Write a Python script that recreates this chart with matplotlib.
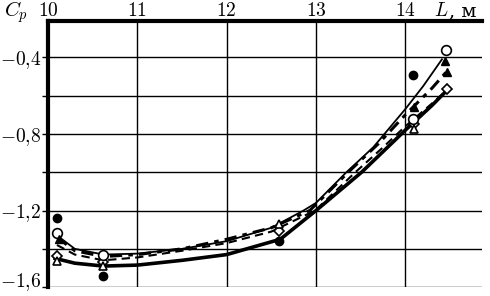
import matplotlib
matplotlib.use("Agg")
import matplotlib.pyplot as plt
from matplotlib.ticker import FixedLocator

plt.rcParams['font.family'] = ['Liberation Serif', 'DejaVu Serif']
plt.rcParams['mathtext.fontset'] = 'cm'

# Curves (L, Cp)
thin_L = [10.1, 10.3, 10.62, 11.0, 11.5, 12.0, 12.5, 12.86, 13.0, 13.34, 13.64, 14.0, 14.2, 14.41]
thin_Cp = [-1.33, -1.40, -1.43, -1.425, -1.40, -1.36, -1.29, -1.2, -1.16, -1.0, -0.87, -0.67, -0.55, -0.41]

dashdot_L = [10.1, 10.3, 10.62, 11.0, 11.5, 12.0, 12.5, 12.93, 13.36, 13.7, 14.0, 14.3, 14.47]
dashdot_Cp = [-1.34, -1.41, -1.44, -1.43, -1.40, -1.35, -1.29, -1.2, -1.0, -0.85, -0.70, -0.56, -0.47]

dashed_L = [10.1, 10.3, 10.62, 11.0, 11.5, 12.0, 12.5, 12.99, 13.44, 13.75, 14.0, 14.3, 14.47]
dashed_Cp = [-1.38, -1.43, -1.46, -1.445, -1.41, -1.37, -1.31, -1.2, -1.0, -0.87, -0.76, -0.64, -0.57]

thick_L = [10.08, 10.3, 10.62, 11.0, 11.5, 12.0, 12.6, 13.0, 13.51, 13.8, 14.0, 14.3, 14.47]
thick_Cp = [-1.45, -1.475, -1.49, -1.485, -1.46, -1.43, -1.35, -1.2, -1.0, -0.87, -0.78, -0.65, -0.57]

# Measured points
oc_L = [10.1, 10.62, 14.09, 14.46]
oc_Cp = [-1.315, -1.43, -0.72, -0.36]
fc_L = [10.1, 10.62, 12.59, 14.09]
fc_Cp = [-1.24, -1.54, -1.357, -0.494]
ot_L = [10.1, 10.62, 12.59, 14.1]
ot_Cp = [-1.466, -1.49, -1.27, -0.775]
od_L = [10.1, 10.62, 12.59, 14.1, 14.47]
od_Cp = [-1.44, -1.47, -1.305, -0.75, -0.567]
ft_L = [10.12, 14.1, 14.44, 14.47]
ft_Cp = [-1.35, -0.66, -0.42, -0.477]

x_ticks = [10, 11, 12, 13, 14]
x_tick_labels = [r'$10$', r'$11$', r'$12$', r'$13$', r'$14$']
y_ticks = [-0.4, -0.8, -1.2, -1.6]
y_tick_labels = [r'$-0{,}4$', r'$-0{,}8$', r'$-1{,}2$', r'$-1{,}6$']

fig = plt.figure(figsize=(4.9, 2.96), dpi=100)
ax = fig.add_axes([0.098, 0.03, 0.886, 0.899])
ax.set_xlim(10, 14.86)
ax.set_ylim(-1.6, -0.21)

ax.xaxis.set_major_locator(FixedLocator(x_ticks))
ax.set_xticklabels(x_tick_labels)
ax.yaxis.set_major_locator(FixedLocator(y_ticks))
ax.yaxis.set_minor_locator(FixedLocator([-0.6, -1.0, -1.4]))
ax.set_yticklabels(y_tick_labels)
ax.xaxis.tick_top()
ax.tick_params(axis='x', which='both', length=0, labelsize=14, pad=1)
ax.tick_params(axis='y', which='both', length=4, width=1, direction='out', labelsize=14, pad=1)
ax.grid(True, which='both', color='black', linewidth=1.0)
ax.set_axisbelow(True)
ax.get_yticklabels()[-1].set_verticalalignment('baseline')

for s in ['right', 'bottom']:
    ax.spines[s].set_visible(False)
ax.spines['top'].set_linewidth(3)
ax.spines['left'].set_linewidth(3)

ax.plot(thin_L, thin_Cp, color='black', lw=1.3, zorder=3)
ax.plot(dashdot_L, dashdot_Cp, color='black', lw=2.2, ls=(0, (4, 2, 1.5, 2)), zorder=3)
ax.plot(dashed_L, dashed_Cp, color='black', lw=1.5, ls=(0, (4, 2.5)), zorder=3)
ax.plot(thick_L, thick_Cp, color='black', lw=2.6, zorder=3)

ms = 6
ax.plot(od_L, od_Cp, 'D', ms=ms - 1, mfc='white', mec='black', mew=1.2, ls='none', zorder=4, clip_on=False)
ax.plot(ot_L, ot_Cp, '^', ms=ms, mfc='white', mec='black', mew=1.2, ls='none', zorder=4, clip_on=False)
ax.plot(oc_L, oc_Cp, 'o', ms=ms + 1, mfc='white', mec='black', mew=1.2, ls='none', zorder=5, clip_on=False)
ax.plot(fc_L, fc_Cp, 'o', ms=ms, color='black', ls='none', zorder=5, clip_on=False)
ax.plot(ft_L, ft_Cp, '^', ms=ms, color='black', ls='none', zorder=5, clip_on=False)

fig.text(0.008, 0.958, r'$C_p$', fontsize=15, va='center', ha='left')
fig.text(0.915, 0.962, r'$L$', fontsize=14, va='center', ha='right')
fig.text(0.917, 0.962, ', м', fontsize=14, va='center', ha='left', family=['DejaVu Serif'])

fig.savefig('out.png', dpi=100)
